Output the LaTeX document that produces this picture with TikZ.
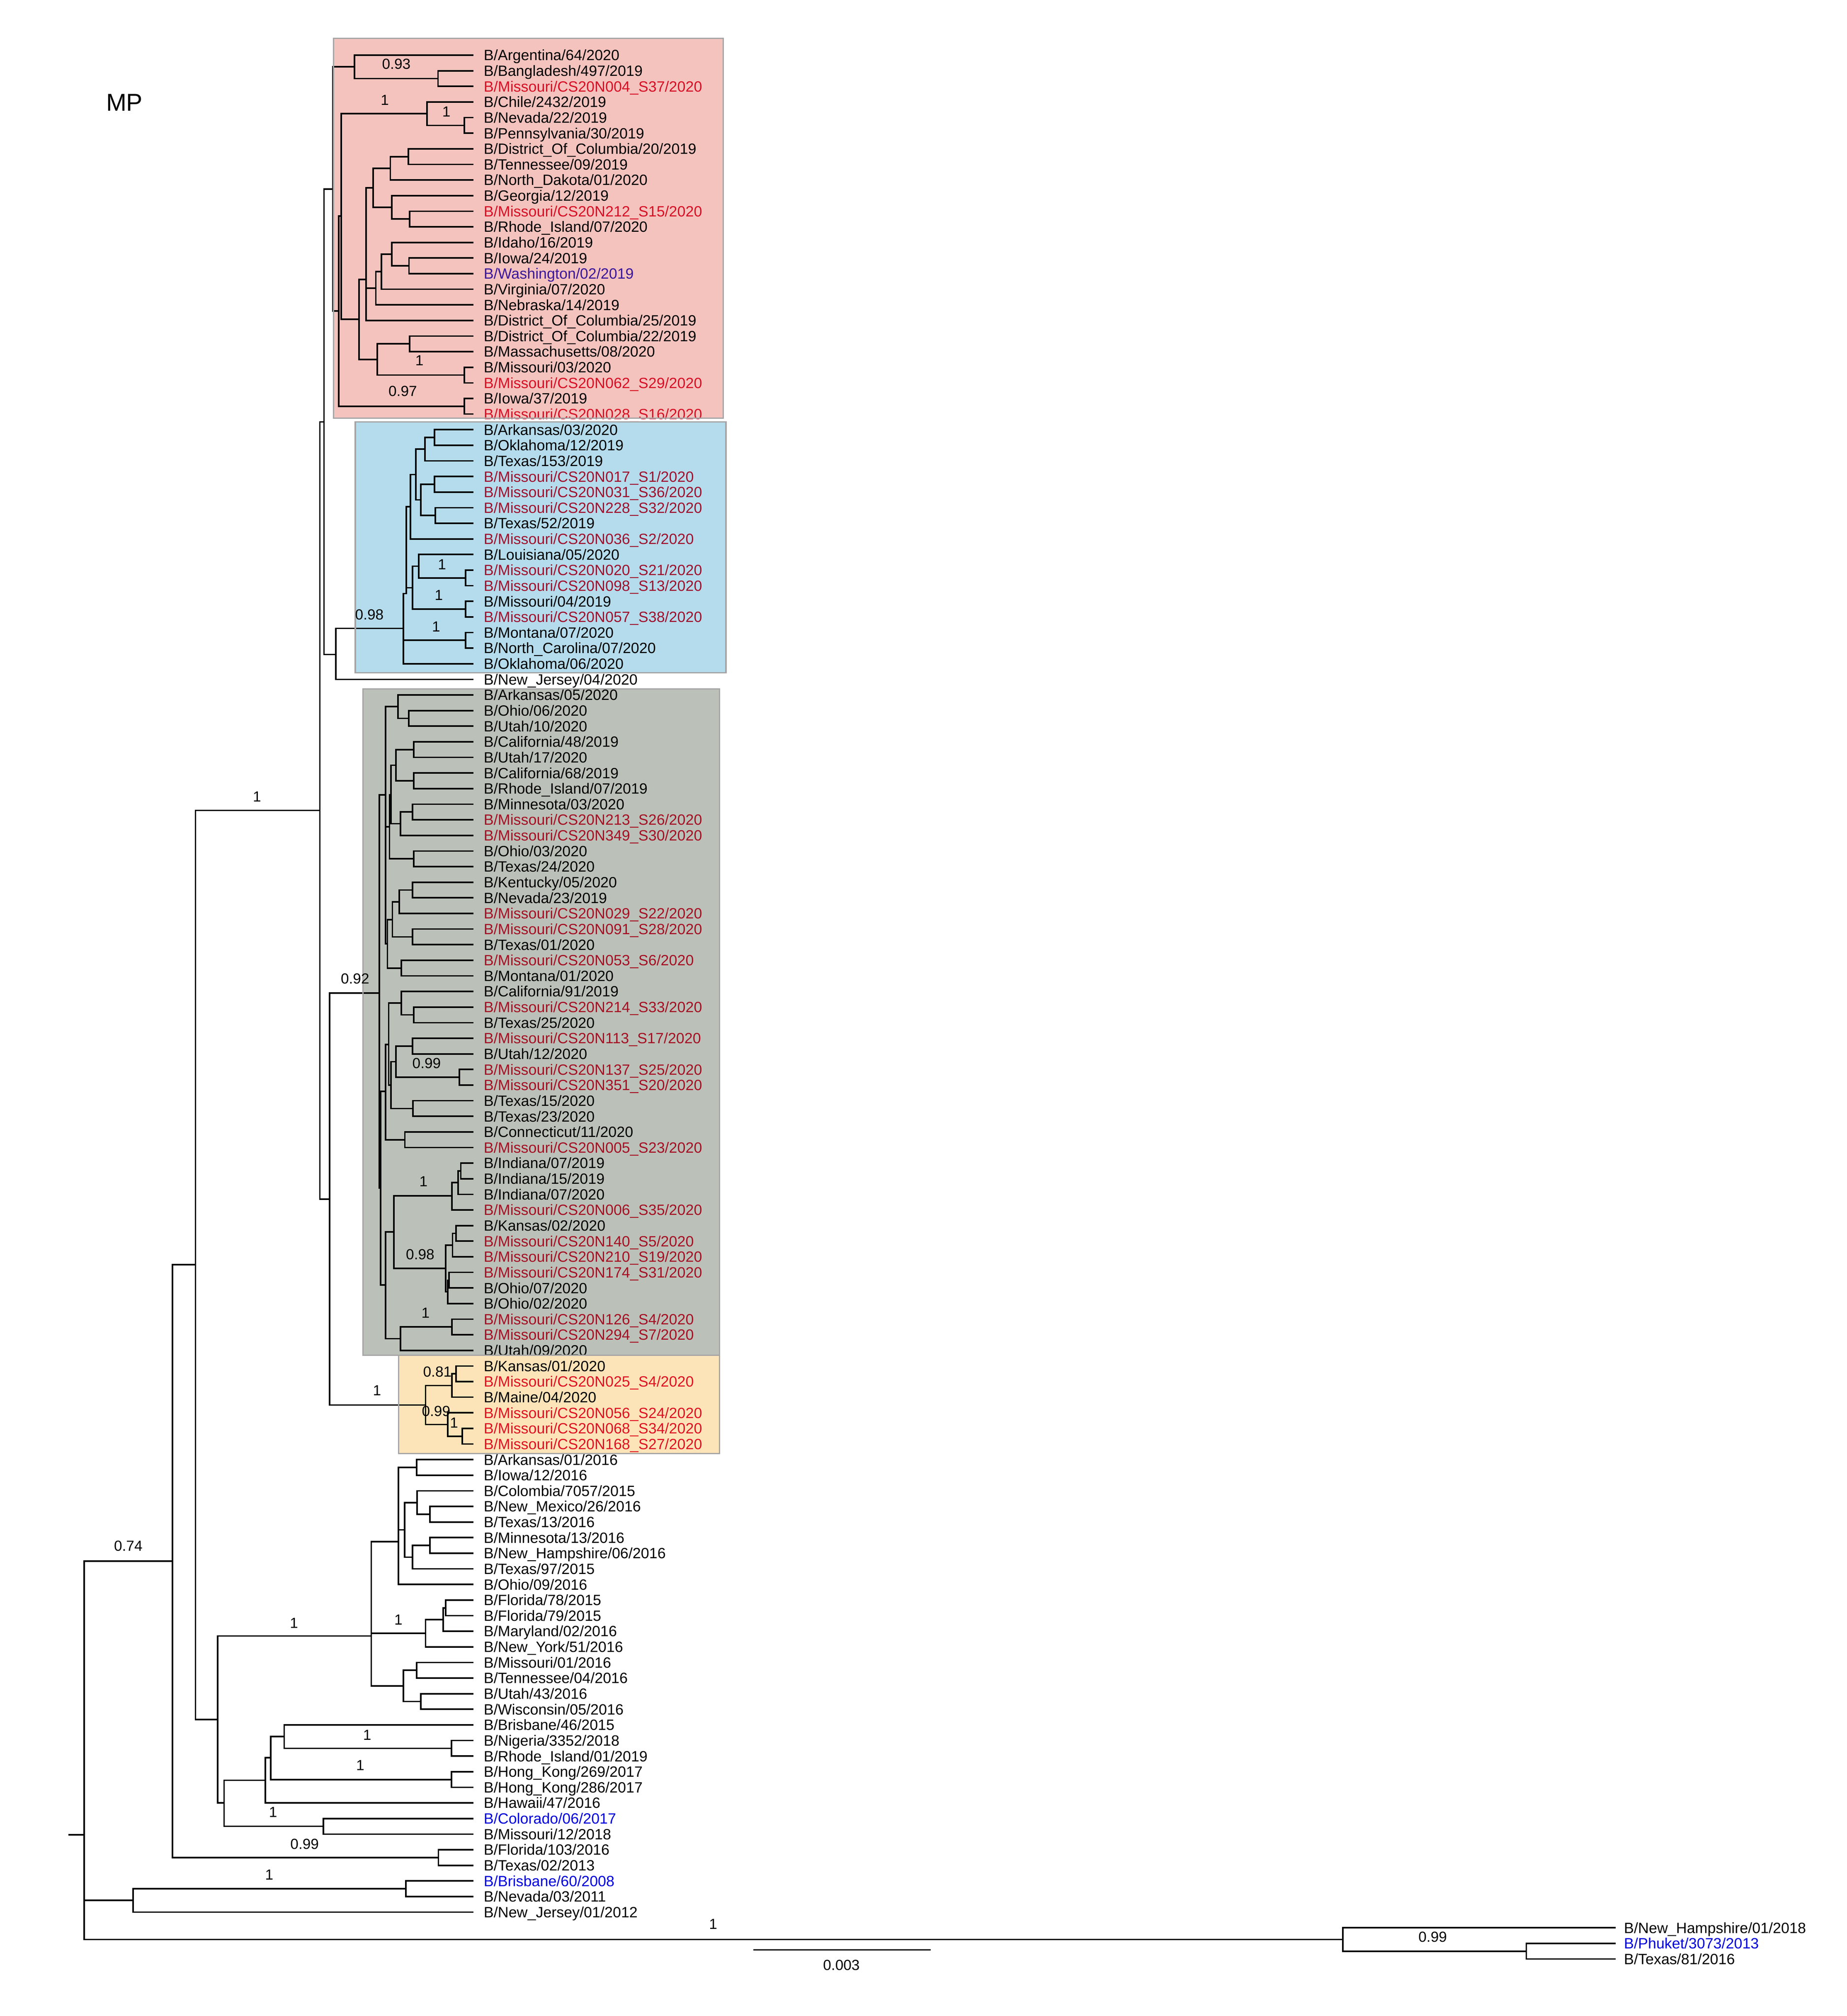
\documentclass[tikz,border=0pt]{standalone}
\usepackage{fontspec}
\setmainfont{Liberation Sans}
\definecolor{mored}{RGB}{225,20,50}
\definecolor{lblue}{RGB}{0,0,220}
\definecolor{wablue}{RGB}{60,30,210}
\definecolor{pinkbox}{RGB}{244,195,190}
\definecolor{bluebox}{RGB}{181,220,236}
\definecolor{graybox}{RGB}{187,193,184}
\definecolor{orangebox}{RGB}{253,228,184}
\definecolor{boxedge}{RGB}{165,165,165}
\tikzset{
  br/.style={line width=1.2pt,line cap=rect,black},
  lab/.style={anchor=base west,yshift=-4.15pt,inner sep=0pt,font=\fontsize{11.6}{12}\selectfont},
  sl/.style={inner sep=0pt,font=\fontsize{11.4}{12}\selectfont},
  cladebox/.style={draw=boxedge,line width=1pt}
}
\newcounter{bsc}
\newcommand\cl[5]{\draw[br] ({#1},{43+12.165*(\off+#2)}) -- ({#1},{43+12.165*(\off+#3)});
  \draw[br] ({#5},{43+12.165*(\off+#4)}) -- ({#1},{43+12.165*(\off+#4)});}
\newcommand\lf[4]{\pgfmathtruncatemacro\lfn{\off+#1}%
  \draw[br] ({#2},{43+12.165*(\off+#1)}) -- (368.5,{43+12.165*(\off+#1)});
  \node[lab,text=#3] (L\lfn) at (377,{43+12.165*(\off+#1)}) {#4};}
\newcommand\bs[3]{\stepcounter{bsc}\node[sl] (S\arabic{bsc}) at (#1,#2) {#3};}
\begin{document}
\begin{tikzpicture}[x=1pt,y=-1pt]
\useasboundingbox (0,0) rectangle (1440,1571.6);
% ---------- red clade
\def\off{0}
\lf{0}{276.3}{black}{B/Argentina/64/2020}
\lf{1}{341.5}{black}{B/Bangladesh/497/2019}
\lf{2}{341.5}{mored}{B/Missouri/CS20N004\_S37/2020}
\lf{3}{332.9}{black}{B/Chile/2432/2019}
\lf{4}{362}{black}{B/Nevada/22/2019}
\lf{5}{362}{black}{B/Pennsylvania/30/2019}
\lf{6}{318.4}{black}{B/District\_Of\_Columbia/20/2019}
\lf{7}{318.4}{black}{B/Tennessee/09/2019}
\lf{8}{304.3}{black}{B/North\_Dakota/01/2020}
\lf{9}{305.4}{black}{B/Georgia/12/2019}
\lf{10}{319.4}{mored}{B/Missouri/CS20N212\_S15/2020}
\lf{11}{319.4}{black}{B/Rhode\_Island/07/2020}
\lf{12}{305.4}{black}{B/Idaho/16/2019}
\lf{13}{318.9}{black}{B/Iowa/24/2019}
\lf{14}{318.9}{wablue}{B/Washington/02/2019}
\lf{15}{297.3}{black}{B/Virginia/07/2020}
\lf{16}{293.0}{black}{B/Nebraska/14/2019}
\lf{17}{285.5}{black}{B/District\_Of\_Columbia/25/2019}
\lf{18}{319.4}{black}{B/District\_Of\_Columbia/22/2019}
\lf{19}{319.4}{black}{B/Massachusetts/08/2020}
\lf{20}{362}{black}{B/Missouri/03/2020}
\lf{21}{362}{mored}{B/Missouri/CS20N062\_S29/2020}
\lf{22}{362}{black}{B/Iowa/37/2019}
\lf{23}{362}{mored}{B/Missouri/CS20N028\_S16/2020}
\cl{341.5}{1}{2}{1.5}{276.3}
\cl{276.3}{0}{1.5}{0.75}{259.6}
\cl{362}{4}{5}{4.5}{332.9}
\cl{332.9}{3}{4.5}{3.75}{266}
\cl{318.4}{6}{7}{6.5}{304.3}
\cl{304.3}{6.5}{8}{7.25}{290.9}
\cl{319.4}{10}{11}{10.5}{305.4}
\cl{305.4}{9}{10.5}{9.75}{290.9}
\cl{290.9}{7.25}{9.75}{8.5}{285.5}
\cl{318.9}{13}{14}{13.5}{305.4}
\cl{305.4}{12}{13.5}{12.75}{297.3}
\cl{297.3}{12.75}{15}{13.875}{293}
\cl{293}{13.875}{16}{14.94}{285.5}
\cl{285.5}{8.5}{17}{14.38}{279.9}
\cl{319.4}{18}{19}{18.5}{294.1}
\cl{362}{20}{21}{20.5}{294.1}
\cl{294.1}{18.5}{20.5}{19.5}{279.9}
\cl{279.9}{14.38}{19.5}{16.93}{266}
\cl{266}{3.75}{16.93}{10.3}{264}
\cl{362}{22}{23}{22.5}{264}
\cl{264}{10.3}{22.5}{16.4}{259.6}
\cl{259.6}{0.75}{16.4}{8.58}{252.6}
% ---------- blue clade
\def\off{24}
\lf{0}{338.8}{black}{B/Arkansas/03/2020}
\lf{1}{338.8}{black}{B/Oklahoma/12/2019}
\lf{2}{331.3}{black}{B/Texas/153/2019}
\lf{3}{338.8}{mored}{B/Missouri/CS20N017\_S1/2020}
\lf{4}{338.8}{mored}{B/Missouri/CS20N031\_S36/2020}
\lf{5}{339.3}{mored}{B/Missouri/CS20N228\_S32/2020}
\lf{6}{339.3}{black}{B/Texas/52/2019}
\lf{7}{320}{mored}{B/Missouri/CS20N036\_S2/2020}
\lf{8}{326.4}{black}{B/Louisiana/05/2020}
\lf{9}{363}{mored}{B/Missouri/CS20N020\_S21/2020}
\lf{10}{363}{mored}{B/Missouri/CS20N098\_S13/2020}
\lf{11}{363}{black}{B/Missouri/04/2019}
\lf{12}{363}{mored}{B/Missouri/CS20N057\_S38/2020}
\lf{13}{363}{black}{B/Montana/07/2020}
\lf{14}{363}{black}{B/North\_Carolina/07/2020}
\lf{15}{314.6}{black}{B/Oklahoma/06/2020}
\cl{338.8}{0}{1}{0.5}{331.3}
\cl{331.3}{0.5}{2}{1.25}{324.3}
\cl{338.8}{3}{4}{3.5}{328}
\cl{339.3}{5}{6}{5.5}{328}
\cl{328}{3.5}{5.5}{4.5}{324.3}
\cl{324.3}{1.25}{4.5}{2.875}{320}
\cl{320}{2.875}{7}{4.94}{316.8}
\cl{363}{9}{10}{9.5}{326.4}
\cl{326.4}{8}{9.5}{8.75}{321.6}
\cl{363}{11}{12}{11.5}{321.6}
\cl{321.6}{8.75}{11.5}{10.13}{316.8}
\cl{316.8}{4.94}{10.5}{10.5}{314.6}
\cl{363}{13}{14}{13.5}{314.6}
\cl{314.6}{10.5}{15}{12.73}{261.8}
\def\off{0}
\lf{40}{261.8}{black}{B/New\_Jersey/04/2020}
\cl{261.8}{36.73}{40}{38.41}{252.6}
\cl{252.6}{8.58}{38.41}{23.5}{249.4}
% ---------- gray clade
\def\off{41}
\lf{0}{310.2}{black}{B/Arkansas/05/2020}
\lf{1}{318.8}{black}{B/Ohio/06/2020}
\lf{2}{318.8}{black}{B/Utah/10/2020}
\lf{3}{322.6}{black}{B/California/48/2019}
\lf{4}{322.6}{black}{B/Utah/17/2020}
\lf{5}{322.6}{black}{B/California/68/2019}
\lf{6}{322.6}{black}{B/Rhode\_Island/07/2019}
\lf{7}{321.6}{black}{B/Minnesota/03/2020}
\lf{8}{321.6}{mored}{B/Missouri/CS20N213\_S26/2020}
\lf{9}{312.3}{mored}{B/Missouri/CS20N349\_S30/2020}
\lf{10}{322.6}{black}{B/Ohio/03/2020}
\lf{11}{322.6}{black}{B/Texas/24/2020}
\lf{12}{321.6}{black}{B/Kentucky/05/2020}
\lf{13}{321.6}{black}{B/Nevada/23/2019}
\lf{14}{311.3}{mored}{B/Missouri/CS20N029\_S22/2020}
\lf{15}{321.6}{mored}{B/Missouri/CS20N091\_S28/2020}
\lf{16}{321.6}{black}{B/Texas/01/2020}
\lf{17}{312.9}{mored}{B/Missouri/CS20N053\_S6/2020}
\lf{18}{312.9}{black}{B/Montana/01/2020}
\lf{19}{312.9}{black}{B/California/91/2019}
\lf{20}{322.6}{mored}{B/Missouri/CS20N214\_S33/2020}
\lf{21}{322.6}{black}{B/Texas/25/2020}
\lf{22}{321.6}{mored}{B/Missouri/CS20N113\_S17/2020}
\lf{23}{321.6}{black}{B/Utah/12/2020}
\lf{24}{358.2}{mored}{B/Missouri/CS20N137\_S25/2020}
\lf{25}{358.2}{mored}{B/Missouri/CS20N351\_S20/2020}
\lf{26}{322}{black}{B/Texas/15/2020}
\lf{27}{322}{black}{B/Texas/23/2020}
\lf{28}{315.6}{black}{B/Connecticut/11/2020}
\lf{29}{315.6}{mored}{B/Missouri/CS20N005\_S23/2020}
\lf{30}{359.3}{black}{B/Indiana/07/2019}
\lf{31}{359.3}{black}{B/Indiana/15/2019}
\lf{32}{357.1}{black}{B/Indiana/07/2020}
\lf{33}{352.3}{mored}{B/Missouri/CS20N006\_S35/2020}
\lf{34}{355.5}{black}{B/Kansas/02/2020}
\lf{35}{355.5}{mored}{B/Missouri/CS20N140\_S5/2020}
\lf{36}{352.8}{mored}{B/Missouri/CS20N210\_S19/2020}
\lf{37}{350.1}{mored}{B/Missouri/CS20N174\_S31/2020}
\lf{38}{350.1}{black}{B/Ohio/07/2020}
\lf{39}{349}{black}{B/Ohio/02/2020}
\lf{40}{352.3}{mored}{B/Missouri/CS20N126\_S4/2020}
\lf{41}{352.3}{mored}{B/Missouri/CS20N294\_S7/2020}
\lf{42}{312.3}{black}{B/Utah/09/2020}
\cl{318.8}{1}{2}{1.5}{310.2}
\cl{310.2}{0}{1.5}{0.75}{300.5}
\cl{322.6}{3}{4}{3.5}{308.6}
\cl{322.6}{5}{6}{5.5}{308.6}
\cl{308.6}{3.5}{5.5}{4.5}{304.8}
\cl{321.6}{7}{8}{7.5}{312.3}
\cl{312.3}{7.5}{9}{8.25}{304.8}
\cl{304.8}{4.5}{8.25}{6.4}{303.7}
\cl{322.6}{10}{11}{10.5}{303.7}
\cl{303.7}{6.4}{10.5}{8.44}{300.5}
\cl{321.6}{12}{13}{12.5}{311.3}
\cl{311.3}{12.5}{14}{13.25}{305.9}
\cl{321.6}{15}{16}{15.5}{305.9}
\cl{305.9}{13.25}{15.5}{14.4}{302.1}
\cl{312.9}{17}{18}{17.5}{302.1}
\cl{302.1}{14.4}{17.5}{15.95}{300.5}
\cl{300.5}{0.75}{15.95}{6.4}{295.7}
\cl{322.6}{20}{21}{20.5}{312.9}
\cl{312.9}{19}{20.5}{19.75}{303}
\cl{321.6}{22}{23}{22.5}{308.6}
\cl{358.2}{24}{25}{24.5}{308.6}
\cl{308.6}{22.5}{24.5}{23.5}{304.8}
\cl{322}{26}{27}{26.5}{304.8}
\cl{304.8}{23.5}{26.5}{25}{303}
\cl{303}{19.75}{25}{22.4}{300.5}
\cl{315.6}{28}{29}{28.5}{300.5}
\cl{300.5}{22.4}{28.5}{25.4}{296.8}
\cl{359.3}{30}{31}{30.5}{357.1}
\cl{357.1}{30.5}{32}{31.25}{352.3}
\cl{352.3}{31.25}{33}{32.1}{307}
\cl{355.5}{34}{35}{34.5}{352.8}
\cl{352.8}{34.5}{36}{35.25}{347.4}
\cl{350.1}{37}{38}{37.5}{349}
\cl{349}{37.5}{39}{38.25}{347.4}
\cl{347.4}{35.25}{38.25}{36.75}{307}
\cl{307}{32.1}{36.75}{34.4}{300.5}
\cl{352.3}{40}{41}{40.5}{312.3}
\cl{312.3}{40.5}{42}{41.25}{300.5}
\cl{300.5}{34.4}{41.25}{37.8}{296.8}
\cl{296.8}{25.4}{37.8}{31.6}{295.7}
\cl{295.7}{6.4}{31.6}{19.1}{256.9}
% ---------- orange clade
\def\off{84}
\lf{0}{355.5}{black}{B/Kansas/01/2020}
\lf{1}{355.5}{mored}{B/Missouri/CS20N025\_S4/2020}
\lf{2}{352.3}{black}{B/Maine/04/2020}
\lf{3}{349}{mored}{B/Missouri/CS20N056\_S24/2020}
\lf{4}{360.4}{mored}{B/Missouri/CS20N068\_S34/2020}
\lf{5}{360.4}{mored}{B/Missouri/CS20N168\_S27/2020}
\cl{355.5}{0}{1}{0.5}{352.3}
\cl{352.3}{0.5}{2}{1.25}{331.8}
\cl{360.4}{4}{5}{4.5}{349}
\cl{349}{3}{4.5}{3.75}{331.8}
\cl{331.8}{1.25}{3.75}{2.5}{256.9}
\def\off{0}
\cl{256.9}{60.1}{86.5}{73.3}{249.4}
\cl{249.4}{23.5}{73.3}{48.4}{152.4}
% ---------- lower part
\def\off{90}
\lf{0}{324.8}{black}{B/Arkansas/01/2016}
\lf{1}{324.8}{black}{B/Iowa/12/2016}
\lf{2}{325.2}{black}{B/Colombia/7057/2015}
\lf{3}{335.2}{black}{B/New\_Mexico/26/2016}
\lf{4}{335.2}{black}{B/Texas/13/2016}
\lf{5}{335.2}{black}{B/Minnesota/13/2016}
\lf{6}{335.2}{black}{B/New\_Hampshire/06/2016}
\lf{7}{321.6}{black}{B/Texas/97/2015}
\lf{8}{310.7}{black}{B/Ohio/09/2016}
\lf{9}{347.5}{black}{B/Florida/78/2015}
\lf{10}{347.5}{black}{B/Florida/79/2015}
\lf{11}{345.6}{black}{B/Maryland/02/2016}
\lf{12}{331.8}{black}{B/New\_York/51/2016}
\lf{13}{324.8}{black}{B/Missouri/01/2016}
\lf{14}{324.8}{black}{B/Tennessee/04/2016}
\lf{15}{328.2}{black}{B/Utah/43/2016}
\lf{16}{328.2}{black}{B/Wisconsin/05/2016}
\lf{17}{221.6}{black}{B/Brisbane/46/2015}
\lf{18}{352}{black}{B/Nigeria/3352/2018}
\lf{19}{352}{black}{B/Rhode\_Island/01/2019}
\lf{20}{352}{black}{B/Hong\_Kong/269/2017}
\lf{21}{352}{black}{B/Hong\_Kong/286/2017}
\lf{22}{206.9}{black}{B/Hawaii/47/2016}
\lf{23}{252.2}{lblue}{B/Colorado/06/2017}
\lf{24}{252.2}{black}{B/Missouri/12/2018}
\lf{25}{341.8}{black}{B/Florida/103/2016}
\lf{26}{341.8}{black}{B/Texas/02/2013}
\lf{27}{316.4}{lblue}{B/Brisbane/60/2008}
\lf{28}{316.4}{black}{B/Nevada/03/2011}
\lf{29}{103.7}{black}{B/New\_Jersey/01/2012}
\cl{324.8}{0}{1}{0.5}{310.7}
\cl{335.2}{3}{4}{3.5}{325.2}
\cl{325.2}{2}{3.5}{2.75}{315.4}
\cl{335.2}{5}{6}{5.5}{321.6}
\cl{321.6}{5.5}{7}{6.25}{315.4}
\cl{315.4}{2.75}{6.25}{4.5}{310.7}
\cl{310.7}{0.5}{8}{5.25}{289.5}
\cl{347.5}{9}{10}{9.5}{345.6}
\cl{345.6}{9.5}{11}{10.25}{331.8}
\cl{331.8}{10.25}{12}{11.12}{289.5}
\cl{324.8}{13}{14}{13.5}{314.6}
\cl{328.2}{15}{16}{15.5}{314.6}
\cl{314.6}{13.5}{15.5}{14.5}{289.5}
\cl{289.5}{5.25}{14.5}{11.3}{169.6}
\cl{352}{18}{19}{18.5}{221.6}
\cl{221.6}{17}{18.5}{17.75}{211}
\cl{352}{20}{21}{20.5}{211}
\cl{211}{17.75}{20.5}{19.1}{206.9}
\cl{206.9}{19.1}{22}{20.55}{174.7}
\cl{252.2}{23}{24}{23.5}{174.7}
\cl{174.7}{20.55}{23.5}{22.0}{169.6}
\cl{169.6}{11.3}{22}{16.65}{152.4}
\cl{341.8}{25}{26}{25.5}{134.4}
\cl{316.4}{27}{28}{27.5}{103.7}
\cl{103.7}{27.5}{29}{28.25}{65.6}
\def\off{0}
\cl{152.4}{48.4}{106.65}{77.5}{134.4}
\cl{134.4}{77.5}{115.5}{96.5}{65.6}
\cl{65.6}{96.5}{120.75}{114.05}{53.9}
% ---------- outgroup
\cl{1046.9}{120}{121.5}{120.75}{65.6}
\cl{1190}{121}{122}{121.5}{1046.9}
\draw[br] (1046.9,{43+12.165*120}) -- (1259,{43+12.165*120});
\draw[br] (1190,{43+12.165*121}) -- (1259,{43+12.165*121});
\draw[br] (1190,{43+12.165*122}) -- (1259,{43+12.165*122});
\node[lab] (L120) at (1266,{43+12.165*120}) {B/New\_Hampshire/01/2018};
\node[lab,text=lblue] (L121) at (1266,{43+12.165*121}) {B/Phuket/3073/2013};
\node[lab] (L122) at (1266,{43+12.165*122}) {B/Texas/81/2016};
% ---------- boxes (multiply)
\begin{scope}[blend mode=multiply]
\fill[pinkbox] (260,30) rectangle (564,326);
\fill[bluebox] (277,329) rectangle (566,524.5);
\fill[graybox] (283,537) rectangle (561,1056.5);
\fill[orangebox] (310.8,1056.5) rectangle (561,1133);
\end{scope}
\draw[cladebox] (260,30) rectangle (564,326);
\draw[cladebox] (277,329) rectangle (566,524.5);
\draw[cladebox] (283,537) rectangle (561,1056.5);
\draw[cladebox] (310.8,1056.5) rectangle (561,1133);
% ---------- support values
\bs{309}{50}{0.93}
\bs{300}{78}{1}
\bs{348}{87}{1}
\bs{327}{281}{1}
\bs{314}{305}{0.97}
\bs{344.6}{440}{1}
\bs{342.1}{464}{1}
\bs{340}{488.5}{1}
\bs{288}{479}{0.98}
\bs{200.4}{621}{1}
\bs{276.8}{763}{0.92}
\bs{332.6}{829}{0.99}
\bs{330.2}{921}{1}
\bs{327.6}{978}{0.98}
\bs{331.8}{1023.5}{1}
\bs{294}{1084}{1}
\bs{341}{1069.5}{0.81}
\bs{340}{1100}{0.99}
\bs{354}{1109}{1}
\bs{229.2}{1265.3}{1}
\bs{310.6}{1262.7}{1}
\bs{286.3}{1352.6}{1}
\bs{280.9}{1376}{1}
\bs{212.9}{1412.8}{1}
\bs{237.5}{1437.7}{0.99}
\bs{209.9}{1461.4}{1}
\bs{100}{1205}{0.74}
\bs{556}{1500}{1}
\bs{1117}{1510}{0.99}
% ---------- scale bar and title
\coordinate (sbA) at (587.4,1520);
\coordinate (sbB) at (725.6,1520);
\draw[br,line cap=butt] (sbA) -- (sbB);
\node[sl] (sbl) at (656,1532) {0.003};
\node[inner sep=0pt,font=\fontsize{19}{20}\selectfont] (title) at (97,80) {MP};
\end{tikzpicture}
\end{document}
